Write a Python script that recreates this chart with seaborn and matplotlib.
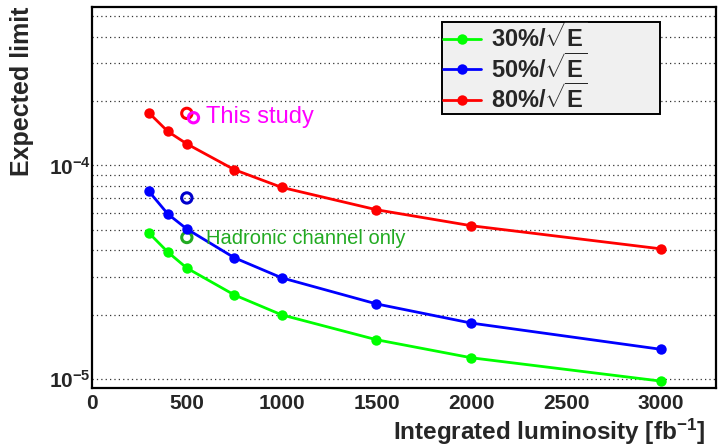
import numpy as np
import pandas as pd
import matplotlib
matplotlib.use("Agg")
import matplotlib.pyplot as plt
import seaborn as sns
from matplotlib.ticker import FixedLocator, FixedFormatter, NullFormatter, MultipleLocator
from matplotlib.lines import Line2D

# ---------------- data ----------------
lumi = [300, 400, 500, 750, 1000, 1500, 2000, 3000]
limit_30 = [4.83e-5, 3.93e-5, 3.31e-5, 2.48e-5, 2.00e-5, 1.53e-5, 1.26e-5, 9.8e-6]
limit_50 = [7.56e-5, 5.92e-5, 5.04e-5, 3.70e-5, 2.98e-5, 2.25e-5, 1.83e-5, 1.38e-5]
limit_80 = [1.76e-4, 1.44e-4, 1.26e-4, 9.55e-5, 7.89e-5, 6.20e-5, 5.22e-5, 4.07e-5]
series_names = ["30%", "50%", "80%"]
series_colors = ["#00ff00", "#0000ff", "#ff0000"]

# open-marker reference points
ref_lumi = [500, 535, 500, 500]
ref_limit = [1.75e-4, 1.67e-4, 7.04e-5, 4.60e-5]
ref_colors = ["#ff0000", "#ff00ff", "#0000cc", "#22aa22"]

x_ticks = [0, 500, 1000, 1500, 2000, 2500, 3000]
y_major = [1e-5, 1e-4]
y_major_labels = [r"$\mathbf{10^{-5}}$", r"$\mathbf{10^{-4}}$"]

# ---------------- style ----------------
sns.set_style("white")
plt.rcParams["font.family"] = ["Liberation Sans", "DejaVu Sans"]
plt.rcParams["mathtext.fontset"] = "custom"
plt.rcParams["mathtext.rm"] = "Liberation Sans:bold"
plt.rcParams["mathtext.bf"] = "Liberation Sans:bold"
plt.rcParams["mathtext.it"] = "Liberation Sans:bold"

df = pd.DataFrame({
    "lumi": lumi * 3,
    "limit": limit_30 + limit_50 + limit_80,
    "series": sum([[s] * len(lumi) for s in series_names], []),
})

fig = plt.figure(figsize=(7.19, 4.46), dpi=100)
ax = fig.add_axes([92 / 719, 58 / 446, 624 / 719, 381 / 446])

sns.lineplot(data=df, x="lumi", y="limit", hue="series", hue_order=series_names,
             palette=series_colors, marker="o", markersize=7.5, markeredgewidth=0,
             linewidth=2, legend=False, ax=ax, sort=False)

ref_df = pd.DataFrame({"lumi": ref_lumi, "limit": ref_limit, "hue": [str(i) for i in range(len(ref_lumi))]})
sns.scatterplot(data=ref_df, x="lumi", y="limit", hue="hue", palette=ref_colors,
                marker="o", s=55, linewidth=2.2, legend=False, ax=ax)
for coll in ax.collections:
    fc = coll.get_facecolors()
    if len(fc):
        coll.set_edgecolors(fc)
        coll.set_facecolors("none")

ax.set_yscale("log")
ax.set_xlim(0, 3290)
ax.set_ylim(9.1e-6, 5.5e-4)

ax.xaxis.set_major_locator(FixedLocator(x_ticks))
ax.xaxis.set_minor_locator(MultipleLocator(100))
ax.set_xticklabels([str(t) for t in x_ticks], fontsize=15, fontweight="bold")

minors = [m * 10.0 ** e for e in (-6, -5, -4) for m in range(2, 10)]
ax.yaxis.set_major_locator(FixedLocator(y_major))
ax.yaxis.set_major_formatter(FixedFormatter(y_major_labels))
ax.yaxis.set_minor_locator(FixedLocator(minors))
ax.yaxis.set_minor_formatter(NullFormatter())
for lab in ax.get_yticklabels():
    lab.set_fontsize(15)

ax.tick_params(axis="x", which="major", direction="in", length=9, width=1.2, pad=4)
ax.tick_params(axis="x", which="minor", direction="in", length=4.5, width=1.0)
ax.tick_params(axis="y", which="major", direction="in", length=17, width=1.4, pad=1)
ax.tick_params(axis="y", which="minor", direction="in", length=9, width=1.0)

ax.grid(True, axis="y", which="both", linestyle=(0, (1, 2.5)), color="#333333", linewidth=0.9)
ax.grid(False, axis="x")
for s in ax.spines.values():
    s.set_color("black")
    s.set_linewidth(1.6)

ax.set_xlabel("")
ax.set_ylabel("")
fig.text(705 / 719, 1 - 432 / 446, r"Integrated luminosity [fb$^{\mathbf{-1}}$]",
         ha="right", va="center", fontsize=17.5, fontweight="bold")
fig.text(22 / 719, 1 - 7 / 446, "Expected limit", rotation=90, ha="center", va="top",
         fontsize=18, fontweight="bold")

ax.annotate("This study", xy=(206 / 719, 1 - 117 / 446), xycoords="figure fraction",
            color="#ff00ff", fontsize=17, va="center", ha="left")
ax.annotate("Hadronic channel only", xy=(206 / 719, 1 - 239 / 446), xycoords="figure fraction",
            color="#22aa22", fontsize=14.5, va="center", ha="left")

handles = [Line2D([0], [0], color=c, lw=2, marker="o", markersize=7.5, markeredgewidth=0)
           for c in series_colors]
labels = [r"$\mathbf{%s\%%/\sqrt{E}}$" % s.rstrip("%") for s in series_names]
leg = ax.legend(handles, labels, loc="upper left", bbox_to_anchor=(0.561, 0.722, 0.349, 0.239),
                mode="expand", borderaxespad=0, fancybox=False, framealpha=1, facecolor="#f0f0f0",
                edgecolor="black", fontsize=17, handlelength=1.65, labelspacing=0.05,
                borderpad=0.02, handletextpad=0.4)
leg.get_frame().set_linewidth(1.4)

fig.savefig("out.png", dpi=100)
